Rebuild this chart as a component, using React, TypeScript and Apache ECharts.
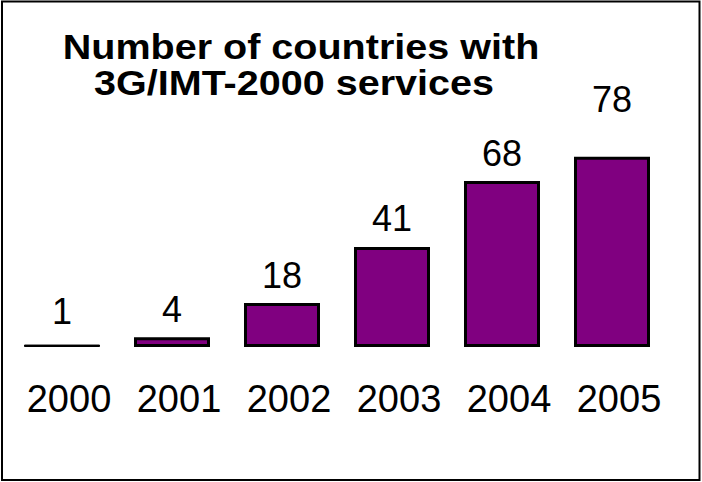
import React, { useEffect, useRef } from "react";
import * as echarts from "echarts";

const years = ["2000", "2001", "2002", "2003", "2004", "2005"];
const countries = [1, 4, 18, 41, 68, 78];
const titleLines = ["Number of countries with", "3G/IMT-2000 services"];

export default function App() {
  const ref = useRef<HTMLDivElement>(null);
  useEffect(() => {
    if (!ref.current) return;
    const chart = echarts.init(ref.current, null, { renderer: "svg" });
    const font = "'Liberation Sans', Arial, sans-serif";
    // manual label nudges seen in the original slide
    const labelLift = (i: number) => (i === 0 ? -5 : i === countries.length - 1 ? -29 : 0);
    const titlePos = [
      { x: 301, y: 47 },
      { x: 294, y: 83 },
    ];
    chart.setOption({
      animation: false,
      backgroundColor: "#ffffff",
      graphic: [
        ...titleLines.map((t, i) => ({
          type: "text",
          x: titlePos[i].x,
          y: titlePos[i].y,
          scaleX: 1.13,
          z: 50,
          style: {
            text: t,
            fontFamily: font,
            fontSize: 35,
            fontWeight: "bold",
            fill: "#000",
            textAlign: "center",
            textVerticalAlign: "middle",
          },
        })),
        {
          type: "rect",
          shape: { x: 2, y: 1.5, width: 697.5, height: 478.5 },
          style: { fill: "none", stroke: "#000", lineWidth: 2 },
          z: 100,
        },
      ],
      grid: { left: 7, width: 660, top: 103, bottom: 135, containLabel: false },
      xAxis: {
        type: "category",
        data: years,
        axisLine: { show: false },
        axisTick: { show: false },
        axisLabel: {
          fontFamily: font,
          fontSize: 38,
          color: "#000",
          margin: 33,
          padding: [0, 0, 0, 14],
        },
      },
      yAxis: {
        type: "value",
        min: 0,
        max: 100,
        show: false,
        splitLine: { show: false },
      },
      series: [
        {
          type: "bar",
          barWidth: 76,
          data: countries.map((v, i) => {
            const item: any = { value: v, label: { offset: [0, labelLift(i)] } };
            if (v < 2) item.itemStyle = { borderWidth: 1, color: "#000" };
            return item;
          }),
          itemStyle: { color: "#800080", borderColor: "#000", borderWidth: 3 },
          label: {
            show: true,
            position: "top",
            distance: 10,
            fontFamily: font,
            fontSize: 36,
            color: "#000",
          },
        },
      ],
    });
    return () => chart.dispose();
  }, []);
  return (
    <div
      ref={ref}
      style={{ position: "fixed", left: 0, top: 0, width: 702, height: 482 }}
    />
  );
}
